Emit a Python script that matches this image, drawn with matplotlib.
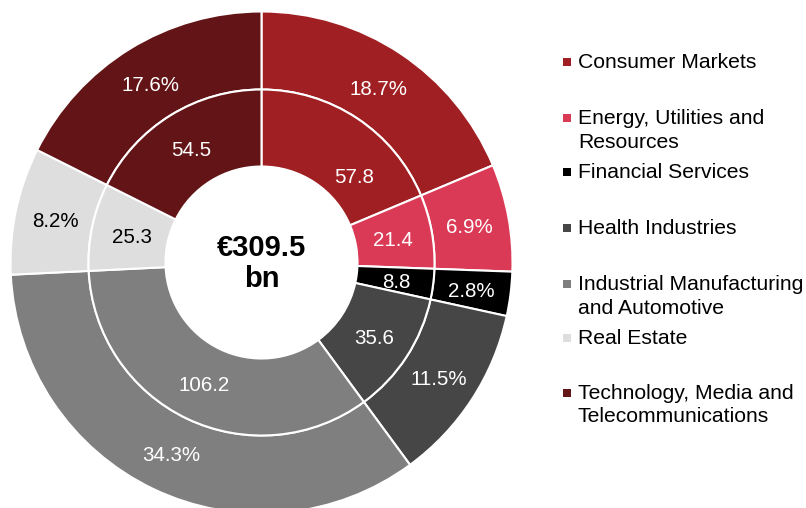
import numpy as np
import matplotlib
matplotlib.use("Agg")
import matplotlib.pyplot as plt

plt.rcParams['font.family'] = ['Liberation Sans', 'DejaVu Sans']

categories = ["Consumer Markets", "Energy, Utilities and\nResources", "Financial Services",
              "Health Industries", "Industrial Manufacturing\nand Automotive", "Real Estate",
              "Technology, Media and\nTelecommunications"]
values = [57.8, 21.4, 8.8, 35.6, 106.2, 25.3, 54.5]
shares = [18.7, 6.9, 2.8, 11.5, 34.3, 8.2, 17.6]
total_label = "€309.5\nbn"
colors = ["#A01F22", "#DB3A56", "#000000", "#464646", "#7F7F7F", "#DEDEDE", "#621416"]
text_colors = ["white", "white", "white", "white", "white", "black", "white"]

W, H = 806, 508
fig = plt.figure(figsize=(W / 100, H / 100), dpi=100)
ax = fig.add_axes([0, 0, 1, 1])

cx, cy = 261.5, H - 262.5
R_out, R_mid, R_in = 251, 173, 96

ax.pie(values, radius=R_out, center=(cx, cy), colors=colors, startangle=90, counterclock=False,
       wedgeprops=dict(width=R_out - R_mid, edgecolor="white", linewidth=1.5))
ax.pie(values, radius=R_mid, center=(cx, cy), colors=colors, startangle=90, counterclock=False,
       wedgeprops=dict(width=R_mid - R_in, edgecolor="white", linewidth=1.5))

# inner label placement tweaks (angle offset in degrees, radius)
inner_angle_shift = [-13, 0, 0, 0, 0, 0, 0]
inner_r = [128, 134, 136, 134, 134, 132, 134]

tot = sum(values)
cum = np.cumsum([0] + values)
for i, (v, s) in enumerate(zip(values, shares)):
    mid = 90 - (cum[i] + v / 2) / tot * 360
    a = np.deg2rad(mid + inner_angle_shift[i])
    r1 = inner_r[i]
    ax.text(cx + r1 * np.cos(a), cy + r1 * np.sin(a) - 2.5, f"{v:.1f}", ha="center", va="center",
            fontsize=14.8, color=text_colors[i])
    a2 = np.deg2rad(mid)
    r2 = 211
    ax.text(cx + r2 * np.cos(a2), cy + r2 * np.sin(a2) - 2.5, f"{s:.1f}%", ha="center", va="center",
            fontsize=14.8, color=text_colors[i])

ax.text(cx, cy - 1, total_label, ha="center", va="center", fontsize=21, fontweight="bold",
        linespacing=1.1)

ax.set_xlim(0, W)
ax.set_ylim(0, H)
ax.set_aspect("equal")
ax.axis("off")

# legend
leg_y = [61, 117, 171, 227, 283, 337, 392]
line_h = 23.5
for lab, col, y in zip(categories, colors, leg_y):
    ax.add_patch(plt.Rectangle((563, H - y - 4.5), 8, 8, color=col, lw=0))
    for j, line in enumerate(lab.split("\n")):
        ax.text(578, H - y - j * line_h - 1.5, line, ha="left", va="center", fontsize=15.2, color="black")

fig.savefig("out.png", dpi=100)
